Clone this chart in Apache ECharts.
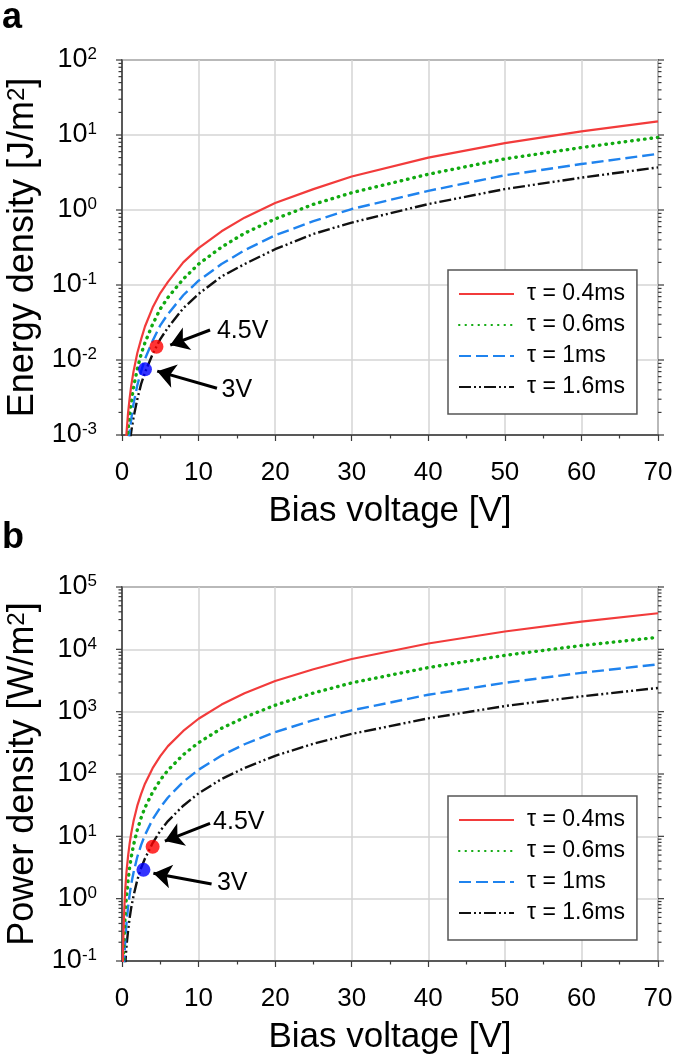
<!DOCTYPE html>
<html><head><meta charset="utf-8">
<script src="https://cdn.jsdelivr.net/npm/echarts@6/dist/echarts.min.js"></script>
<style>html,body{margin:0;padding:0;background:#fff}#c{width:675px;height:1061px}</style>
</head><body><div id="c"></div>
<script>
// ---------- data ----------
const seriesNames = ['τ = 0.4ms', 'τ = 0.6ms', 'τ = 1ms', 'τ = 1.6ms'];
const xTicks = [0, 10, 20, 30, 40, 50, 60, 70];
const yExpA = [-3, -2, -1, 0, 1, 2];
const yExpB = [-1, 0, 1, 2, 3, 4, 5];

// Panel a: energy density [J/m2] vs bias voltage [V]
const voltageA = [0.5, 0.6, 0.8, 1, 1.2, 1.5, 2, 2.5, 3, 4, 5, 6, 8, 10, 13, 16, 20, 25, 30, 40, 50, 60, 70];
const energyTau04 = [0.00078, 0.0011, 0.002, 0.0031, 0.0045, 0.007, 0.0124, 0.019, 0.028, 0.05, 0.078, 0.11, 0.2, 0.31, 0.52, 0.79, 1.24, 1.9, 2.8, 5.0, 7.8, 11.2, 15.2];
const energyTau06 = [0.00048, 0.00068, 0.0012, 0.0019, 0.0027, 0.0043, 0.0076, 0.012, 0.017, 0.03, 0.048, 0.068, 0.12, 0.19, 0.32, 0.49, 0.76, 1.19, 1.7, 3.0, 4.8, 6.8, 9.3];
const energyTau1 = [0.00029, 0.00041, 0.00073, 0.00114, 0.0016, 0.0026, 0.0046, 0.0071, 0.0103, 0.018, 0.029, 0.041, 0.073, 0.114, 0.19, 0.29, 0.46, 0.71, 1.03, 1.8, 2.9, 4.1, 5.6];
const energyTau16 = [0.00019, 0.00027, 0.00049, 0.00076, 0.0011, 0.0017, 0.003, 0.0048, 0.0068, 0.012, 0.019, 0.027, 0.049, 0.076, 0.13, 0.19, 0.3, 0.48, 0.68, 1.2, 1.9, 2.7, 3.7];
const markersA = [[4.5, 0.015, '#ff0000'], [3, 0.0075, '#0000ff']];
const notesA = [['4.5V', 12.4, 0.0244], ['3V', 13.0, 0.0040]];
const arrowsA = [[[11.5, 0.0251], [6.3, 0.0158]], [[12.4, 0.0042], [4.6, 0.0071]]];

// Panel b: power density [W/m2] vs bias voltage [V]
const voltageB = [0.1, 0.15, 0.2, 0.3, 0.4, 0.5, 0.6, 0.8, 1, 1.2, 1.5, 2, 2.5, 3, 4, 5, 6, 8, 10, 13, 16, 20, 25, 30, 40, 50, 60, 70];
const powerTau04 = [0.077, 0.17, 0.31, 0.7, 1.24, 1.93, 2.8, 4.9, 7.7, 11.1, 17.4, 31, 48, 70, 124, 193, 280, 490, 770, 1300, 1980, 3100, 4800, 7000, 12400, 19300, 27800, 37900];
const powerTau06 = [0.032, 0.072, 0.13, 0.29, 0.51, 0.8, 1.15, 2.0, 3.2, 4.6, 7.2, 12.7, 19.9, 29, 51, 80, 115, 204, 318, 540, 810, 1270, 1990, 2900, 5100, 8000, 11500, 15600];
const powerTau1 = [0.012, 0.026, 0.047, 0.105, 0.19, 0.29, 0.42, 0.75, 1.17, 1.7, 2.6, 4.7, 7.3, 10.5, 18.7, 29, 42, 75, 117, 198, 300, 470, 730, 1050, 1870, 2900, 4200, 5750];
const powerTau16 = [0.0049, 0.011, 0.02, 0.044, 0.078, 0.12, 0.18, 0.31, 0.49, 0.71, 1.1, 2.0, 3.1, 4.4, 7.8, 12.3, 17.6, 31, 49, 83, 125, 196, 306, 440, 780, 1230, 1760, 2400];
const markersB = [[4.0, 6.8, '#ff0000'], [2.8, 2.9, '#0000ff']];
const notesB = [['4.5V', 11.9, 16.7], ['3V', 12.4, 1.76]];
const arrowsB = [[[11.5, 16.2], [5.6, 8.4]], [[11.7, 1.72], [4.1, 2.55]]];

// ---------- styling ----------
const FONT = '"Liberation Sans", Arial, sans-serif';
const lineStyles = [
  {color: '#f23b3b', width: 2.2, type: 'solid'},
  {color: '#11aa11', width: 3.4, type: [0.5, 6], cap: 'round'},
  {color: '#1f83ee', width: 2.4, type: [12, 5]},
  {color: '#111111', width: 2.4, type: [12, 3, 2, 3, 2, 3]}
];
const AXIS_COLOR = '#3a3a3a';
const GRID_COLOR = '#d4d4d4';

function pairs(xs, ys) { return xs.map((x, i) => [x, ys[i]]); }

function minorTickData(expList) {
  const out = [];
  for (let i = 0; i < expList.length - 1; i++) {
    for (let k = 1; k <= 9; k++) out.push([0, k * Math.pow(10, expList[i]), k === 1 ? 6 : 3.5]);
  }
  out.push([0, Math.pow(10, expList[expList.length - 1]), 6]);
  return out;
}

function yLabelFormatter(expList) {
  return function (v) {
    const e = Math.round(Math.log10(v));
    const lab = expList.find(x => x === e);
    return '{b|10}{s|' + lab + '}';
  };
}

const gridA = {left: 122, top: 60, width: 536, height: 375};
const gridB = {left: 122, top: 587, width: 536, height: 374};

function xAxisFor(gi) {
  return {
    type: 'value', gridIndex: gi, min: xTicks[0], max: xTicks[xTicks.length - 1], interval: 10,
    name: 'Bias voltage [V]', nameLocation: 'middle', nameGap: 59,
    nameTextStyle: {fontSize: 35, color: '#000', fontFamily: FONT},
    axisLine: {show: true, lineStyle: {color: AXIS_COLOR, width: 1.5}},
    axisTick: {show: true, length: 6, lineStyle: {color: AXIS_COLOR, width: 1.2}},
    minorTick: {show: true, splitNumber: 2, length: 3.5, lineStyle: {color: AXIS_COLOR, width: 1.2}},
    axisLabel: {fontSize: 26, color: '#000', margin: 25, fontFamily: FONT,
      formatter: v => String(xTicks.find(t => t === v))},
    splitLine: {show: true, lineStyle: {color: GRID_COLOR, width: 1.5}}
  };
}

function yAxisFor(gi, expList, nameRich) {
  return {
    type: 'log', logBase: 10, gridIndex: gi,
    min: Math.pow(10, expList[0]), max: Math.pow(10, expList[expList.length - 1]),
    splitNumber: expList.length - 1,
    name: nameRich, nameLocation: 'middle', nameGap: 71, nameRotate: 90,
    nameTextStyle: {fontFamily: FONT, color: '#000',
      rich: {t: {fontSize: 36, fontFamily: FONT, color: '#000'},
             s: {fontSize: 24, fontFamily: FONT, color: '#000', verticalAlign: 'top', lineHeight: 22}}},
    axisLine: {show: true, lineStyle: {color: AXIS_COLOR, width: 1.5}},
    axisTick: {show: false},
    axisLabel: {margin: 25, fontFamily: FONT, formatter: yLabelFormatter(expList),
      rich: {b: {fontSize: 27, lineHeight: 28, color: '#000', fontFamily: FONT},
             s: {fontSize: 17, lineHeight: 14, color: '#000', fontFamily: FONT, verticalAlign: 'top'}}},
    splitLine: {show: true, lineStyle: {color: GRID_COLOR, width: 1.5}}
  };
}

function tickSeries(gi, expList) {
  return {
    type: 'custom', xAxisIndex: gi, yAxisIndex: gi, silent: true, clip: false, z: 5,
    data: minorTickData(expList),
    renderItem: function (params, api) {
      const v = api.value(1), len = api.value(2);
      const pL = api.coord([xTicks[0], v]);
      const pR = api.coord([xTicks[xTicks.length - 1], v]);
      const st = {stroke: AXIS_COLOR, lineWidth: 1.2};
      return {type: 'group', children: [
        {type: 'line', shape: {x1: pL[0] - len, y1: pL[1], x2: pL[0], y2: pL[1]}, style: st},
        {type: 'line', shape: {x1: pR[0], y1: pR[1], x2: pR[0] + len, y2: pR[1]}, style: st}
      ]};
    }
  };
}

function curveSeries(gi, xs, ysList) {
  return ysList.map((ys, i) => ({
    type: 'line', name: seriesNames[i], xAxisIndex: gi, yAxisIndex: gi,
    data: pairs(xs, ys), showSymbol: false, symbol: 'none', smooth: false, clip: true,
    lineStyle: lineStyles[i], itemStyle: {color: lineStyles[i].color}, z: 3 + (3 - i) * 0.1
  }));
}

function extraSeries(gi, markers, notes, arrows) {
  return [
    {type: 'lines', coordinateSystem: 'cartesian2d', xAxisIndex: gi, yAxisIndex: gi, silent: true, z: 6,
     symbol: ['none', 'arrow'], symbolSize: [0, 18],
     lineStyle: {color: '#000', width: 3, opacity: 1, curveness: 0},
     data: arrows.map(a => ({coords: a}))},
    {type: 'scatter', xAxisIndex: gi, yAxisIndex: gi, silent: true, z: 7, symbolSize: 14,
     data: markers.map(m => ({value: [m[0], m[1]], itemStyle: {color: m[2]}}))},
    {type: 'scatter', xAxisIndex: gi, yAxisIndex: gi, silent: true, z: 7, symbolSize: 0,
     itemStyle: {color: '#000'},
     label: {show: true, position: 'right', distance: 0, fontSize: 25, color: '#000', fontFamily: FONT,
       opacity: 1, formatter: p => p.data.name},
     data: notes.map(n => ({name: n[0], value: [n[1], n[2]]}))}
  ];
}

function legendFor(top) {
  return {
    data: seriesNames, orient: 'vertical', left: 448, top: top, selectedMode: false,
    padding: [12, 12, 15, 10], itemGap: 7, itemWidth: 55, itemHeight: 14,
    itemStyle: {opacity: 0},
    backgroundColor: '#fff', borderColor: '#555', borderWidth: 1.5, borderRadius: 0,
    textStyle: {fontSize: 23, lineHeight: 24, color: '#000', fontFamily: FONT, padding: [0, 0, 0, 8]}
  };
}

const gridCommon = {show: true, borderColor: AXIS_COLOR, borderWidth: 1.5, backgroundColor: 'transparent',
  containLabel: false, outerBoundsMode: 'none'};

const chart = echarts.init(document.getElementById('c'), null, {renderer: 'canvas'});
chart.setOption({
  backgroundColor: '#fff',
  animation: false,
  textStyle: {fontFamily: FONT},
  grid: [
    Object.assign({}, gridCommon, gridA),
    Object.assign({}, gridCommon, gridB)
  ],
  legend: [legendFor(270), legendFor(796)],
  graphic: [
    {type: 'text', left: 2, top: 0, style: {text: 'a', fill: '#000', font: 'bold 36px ' + FONT}},
    {type: 'text', left: 2, top: 520, style: {text: 'b', fill: '#000', font: 'bold 36px ' + FONT}}
  ],
  xAxis: [xAxisFor(0), xAxisFor(1)],
  yAxis: [
    yAxisFor(0, yExpA, '{t|Energy density [J/m}{s|2}{t|]}'),
    yAxisFor(1, yExpB, '{t|Power density [W/m}{s|2}{t|]}')
  ],
  series: [].concat(
    curveSeries(0, voltageA, [energyTau04, energyTau06, energyTau1, energyTau16]),
    curveSeries(1, voltageB, [powerTau04, powerTau06, powerTau1, powerTau16]),
    [tickSeries(0, yExpA), tickSeries(1, yExpB)],
    extraSeries(0, markersA, notesA, arrowsA),
    extraSeries(1, markersB, notesB, arrowsB)
  )
});
</script></body></html>
